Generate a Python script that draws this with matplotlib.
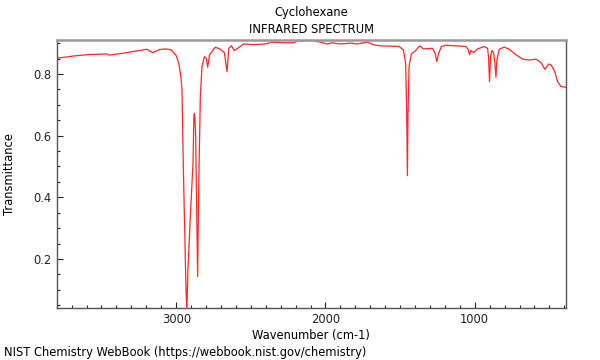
#!/usr/bin/env python3
"""Cyclohexane IR spectrum, redrawn from the NIST WebBook plot."""

import matplotlib

matplotlib.use("Agg")
import matplotlib.pyplot as plt
from matplotlib.ticker import MultipleLocator

# wavenumber (cm-1) and transmittance
wavenumber = [
    3798, 3670, 3581, 3509, 3469, 3447, 3357, 3246, 3196, 3156, 3111, 3067,
    3033, 2999, 2981, 2968, 2961, 2950, 2934, 2928, 2921, 2905, 2887, 2881,
    2877, 2870, 2856, 2850, 2838, 2827, 2811, 2798, 2789, 2776, 2738, 2704,
    2677, 2659, 2648, 2630, 2610, 2588, 2548, 2481, 2402, 2357, 2279, 2212,
    2179, 2156, 2122, 2089, 2033, 1988, 1954, 1899, 1830, 1787, 1720, 1675,
    1630, 1552, 1507, 1478, 1463, 1456, 1451, 1447, 1440, 1424, 1395, 1369,
    1344, 1283, 1266, 1254, 1243, 1223, 1194, 1060, 1044, 1035, 1026, 1008,
    981, 937, 914, 908, 901, 894, 885, 874, 865, 858, 852, 836, 803, 769,
    724, 679, 635, 590, 556, 530, 505, 489, 467, 445, 422, 389,
]
transmittance = [
    0.851, 0.859, 0.863, 0.864, 0.865, 0.861, 0.867, 0.876, 0.880, 0.869, 0.879, 0.881,
    0.878, 0.859, 0.832, 0.790, 0.748, 0.456, 0.100, 0.035, 0.164, 0.337, 0.511, 0.667,
    0.672, 0.618, 0.143, 0.400, 0.726, 0.824, 0.856, 0.851, 0.822, 0.862, 0.887, 0.880,
    0.869, 0.807, 0.883, 0.891, 0.876, 0.883, 0.897, 0.895, 0.897, 0.903, 0.901, 0.901,
    0.910, 0.906, 0.910, 0.908, 0.903, 0.897, 0.901, 0.897, 0.900, 0.897, 0.903, 0.894,
    0.891, 0.890, 0.889, 0.878, 0.835, 0.673, 0.470, 0.673, 0.824, 0.865, 0.876, 0.891,
    0.881, 0.883, 0.867, 0.840, 0.865, 0.889, 0.893, 0.889, 0.880, 0.862, 0.876, 0.869,
    0.881, 0.889, 0.883, 0.856, 0.775, 0.856, 0.876, 0.869, 0.835, 0.789, 0.845, 0.880, 0.887, 0.880,
    0.862, 0.848, 0.845, 0.848, 0.837, 0.815, 0.832, 0.829, 0.811, 0.775, 0.759, 0.757,
]

x_ticks = [1000, 2000, 3000]
y_ticks = [0.2, 0.4, 0.6, 0.8]


def main() -> None:
    fig = plt.figure(figsize=(6, 3.6), dpi=100)
    ax = fig.add_axes([0.0945, 0.1444, 0.8488, 0.7445])

    ax.plot(wavenumber, transmittance, color="#ff2828", lw=0.9)

    ax.set_xlim(3800, 389)
    ax.set_ylim(0.041, 0.91)
    ax.set_xticks(x_ticks)
    ax.set_yticks(y_ticks)
    ax.xaxis.set_minor_locator(MultipleLocator(100))
    ax.yaxis.set_minor_locator(MultipleLocator(0.05))
    ax.tick_params(which="both", direction="in", labelsize=8.3, colors="#222222")
    ax.tick_params(which="major", length=4.5, width=0.8)
    ax.tick_params(which="minor", length=2.5, width=0.8)

    ax.spines["top"].set_color("#999999")
    ax.spines["top"].set_linewidth(1.8)
    for side in ("left", "bottom", "right"):
        ax.spines[side].set_color("#555555")
        ax.spines[side].set_linewidth(1.0)

    ax.set_xlabel("Wavenumber (cm-1)", fontsize=8.3, labelpad=2)
    ax.set_ylabel("Transmittance", fontsize=8.3)
    ax.yaxis.set_label_coords(-0.08, 0.5)

    fig.text(0.5191, 0.965, "Cyclohexane", ha="center", va="center", fontsize=8.3)
    fig.text(0.5191, 0.918, "INFRARED SPECTRUM", ha="center", va="center", fontsize=8.3)
    fig.text(0.006, 0.022, "NIST Chemistry WebBook (https://webbook.nist.gov/chemistry)",
             ha="left", va="center", fontsize=8.3)

    fig.savefig("out.png", dpi=100)
    plt.close(fig)


if __name__ == "__main__":
    main()
